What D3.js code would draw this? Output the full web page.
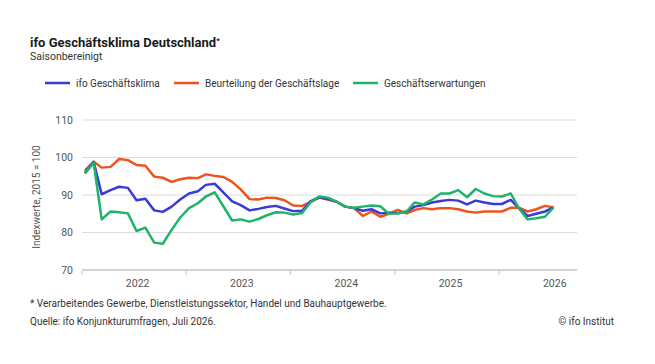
<!DOCTYPE html>
<html>
<head>
<meta charset="utf-8">
<script src="https://cdn.jsdelivr.net/npm/d3@7"></script>
<style>
  body { margin: 0; background: #fff; }
  svg { display: block; font-family: Roboto, sans-serif; }
</style>
</head>
<body>
<script>
// Monthly values Jan 2022 – Jul 2026
const klima = [
  95.9, 98.8, 90.2, 91.3, 92.2, 91.9, 88.6, 89.0, 85.9, 85.5, 86.9, 88.8,
  90.4, 91.0, 92.7, 93.0, 90.7, 88.3, 87.3, 85.9, 86.3, 86.8, 87.1, 86.4,
  85.7, 85.8, 88.3, 89.4, 88.9, 88.2, 86.9, 86.5, 85.8, 86.2, 85.1, 85.3,
  85.1, 85.6, 86.9, 87.3, 88.0, 88.4, 88.7, 88.5, 87.5, 88.5, 88.0, 87.6,
  87.6, 88.7, 86.5, 84.4, 85.0, 85.6, 86.7
];
const lage = [
  96.5, 98.9, 97.3, 97.5, 99.6, 99.3, 98.0, 97.8, 94.9, 94.6, 93.5, 94.2,
  94.6, 94.5, 95.5, 95.1, 94.8, 93.5, 91.5, 88.9, 88.8, 89.3, 89.2, 88.6,
  87.2, 87.1, 88.1, 89.3, 88.8, 88.2, 86.9, 86.5, 84.4, 85.6, 84.2, 85.0,
  86.0, 85.1, 86.0, 86.5, 86.2, 86.5, 86.5, 86.2, 85.6, 85.3, 85.6, 85.6,
  85.6, 86.6, 86.6, 85.6, 86.2, 87.1, 86.7
];
const erwartungen = [
  95.7, 98.6, 83.5, 85.6, 85.4, 85.1, 80.4, 81.3, 77.3, 77.0, 80.7, 84.0,
  86.5, 87.8, 89.6, 90.7, 87.0, 83.2, 83.5, 82.9, 83.6, 84.6, 85.4, 85.3,
  84.8, 85.2, 88.0, 89.6, 89.3, 88.2, 86.9, 86.6, 86.9, 87.2, 87.0, 85.0,
  85.1, 85.6, 88.0, 87.5, 88.8, 90.4, 90.4, 91.3, 89.4, 91.6, 90.4, 89.7,
  89.6, 90.4, 86.5, 83.5, 83.8, 84.2, 86.7
];
const yTicks = [70, 80, 90, 100, 110];
const years = [2022, 2023, 2024, 2025, 2026];

const seriesNames = ["ifo Geschäftsklima", "Beurteilung der Geschäftslage", "Geschäftserwartungen"];
const seriesColors = ["#3a3ad6", "#f0521c", "#1fb469"];

const width = 655, height = 364;
const marginLeft = 82, plotRight = 577, plotTop = 120, plotBottom = 270;

const months = d3.timeMonth.range(new Date(2022, 0, 1), new Date(2026, 7, 1));

const x = d3.scaleTime()
  .domain([new Date(2022, 0, 1), new Date(2026, 9, 1)])
  .range([marginLeft, plotRight]);

const y = d3.scaleLinear()
  .domain([70, 110])
  .range([plotBottom, plotTop]);

const svg = d3.select("body").append("svg")
  .attr("width", width)
  .attr("height", height)
  .attr("viewBox", [0, 0, width, height]);

// Title
const title = svg.append("text")
  .attr("x", 30).attr("y", 47)
  .attr("font-size", 13).attr("font-weight", 700).attr("fill", "#1a1a1a")
  .text("ifo Geschäftsklima Deutschland");
title.append("tspan").attr("font-size", 8).attr("dy", -4).text("*");

svg.append("text")
  .attr("x", 30).attr("y", 60)
  .attr("font-size", 10.5).attr("fill", "#333")
  .text("Saisonbereinigt");

// Legend
const legendX = [45, 174, 353];
const legend = svg.append("g").selectAll("g")
  .data(seriesNames)
  .join("g")
  .attr("transform", (d, i) => `translate(${legendX[i]},83)`);
legend.append("line")
  .attr("x1", 0).attr("x2", 25)
  .attr("stroke", (d, i) => seriesColors[i])
  .attr("stroke-width", 2.5);
legend.append("text")
  .attr("x", 31).attr("dy", "0.35em")
  .attr("font-size", 10).attr("fill", "#333")
  .text(d => d);

// Grid + y axis
svg.append("g")
  .selectAll("line")
  .data(yTicks)
  .join("line")
  .attr("x1", marginLeft).attr("x2", plotRight)
  .attr("y1", d => y(d)).attr("y2", d => y(d))
  .attr("stroke", d => d === 70 ? "#c4c4c4" : "#dcdcdc")
  .attr("stroke-width", d => d === 70 ? 1.5 : 1);

svg.append("g")
  .selectAll("text")
  .data(yTicks)
  .join("text")
  .attr("x", 73).attr("y", d => y(d)).attr("dy", "0.35em")
  .attr("text-anchor", "end")
  .attr("font-size", 10.5).attr("fill", "#555")
  .text(d => d);

svg.append("text")
  .attr("transform", `translate(40,${(plotTop + plotBottom) / 2 + 2}) rotate(-90)`)
  .attr("text-anchor", "middle")
  .attr("font-size", 10).attr("fill", "#555")
  .text("Indexwerte, 2015 = 100");

// x axis: year ticks and labels
svg.append("g")
  .selectAll("line")
  .data(years)
  .join("line")
  .attr("x1", d => x(new Date(d, 0, 1))).attr("x2", d => x(new Date(d, 0, 1)))
  .attr("y1", plotBottom + 1).attr("y2", plotBottom + 5)
  .attr("stroke", "#c4c4c4");

svg.append("g")
  .selectAll("text")
  .data(years)
  .join("text")
  .attr("x", d => x(new Date(d, 6, 15)))
  .attr("y", 287)
  .attr("text-anchor", "middle")
  .attr("font-size", 10.5).attr("fill", "#555")
  .text(d => d);

// Lines (orange below, green on top)
const line = d3.line()
  .x((d, i) => x(d3.timeDay.offset(months[i], 10)))
  .y(d => y(d));

const drawOrder = [1, 0, 2];
const seriesData = [klima, lage, erwartungen];
svg.append("g")
  .selectAll("path")
  .data(drawOrder)
  .join("path")
  .attr("d", i => line(seriesData[i]))
  .attr("fill", "none")
  .attr("stroke", i => seriesColors[i])
  .attr("stroke-width", 2.5)
  .attr("stroke-linejoin", "round");

// Footer
svg.append("text")
  .attr("x", 30).attr("y", 307)
  .attr("font-size", 10).attr("fill", "#333")
  .text("* Verarbeitendes Gewerbe, Dienstleistungssektor, Handel und Bauhauptgewerbe.");
svg.append("text")
  .attr("x", 30).attr("y", 325)
  .attr("font-size", 10).attr("fill", "#333")
  .text("Quelle: ifo Konjunkturumfragen, Juli 2026.");
svg.append("text")
  .attr("x", 614).attr("y", 325)
  .attr("text-anchor", "end")
  .attr("font-size", 10).attr("fill", "#333")
  .text("© ifo Institut");
</script>
</body>
</html>
